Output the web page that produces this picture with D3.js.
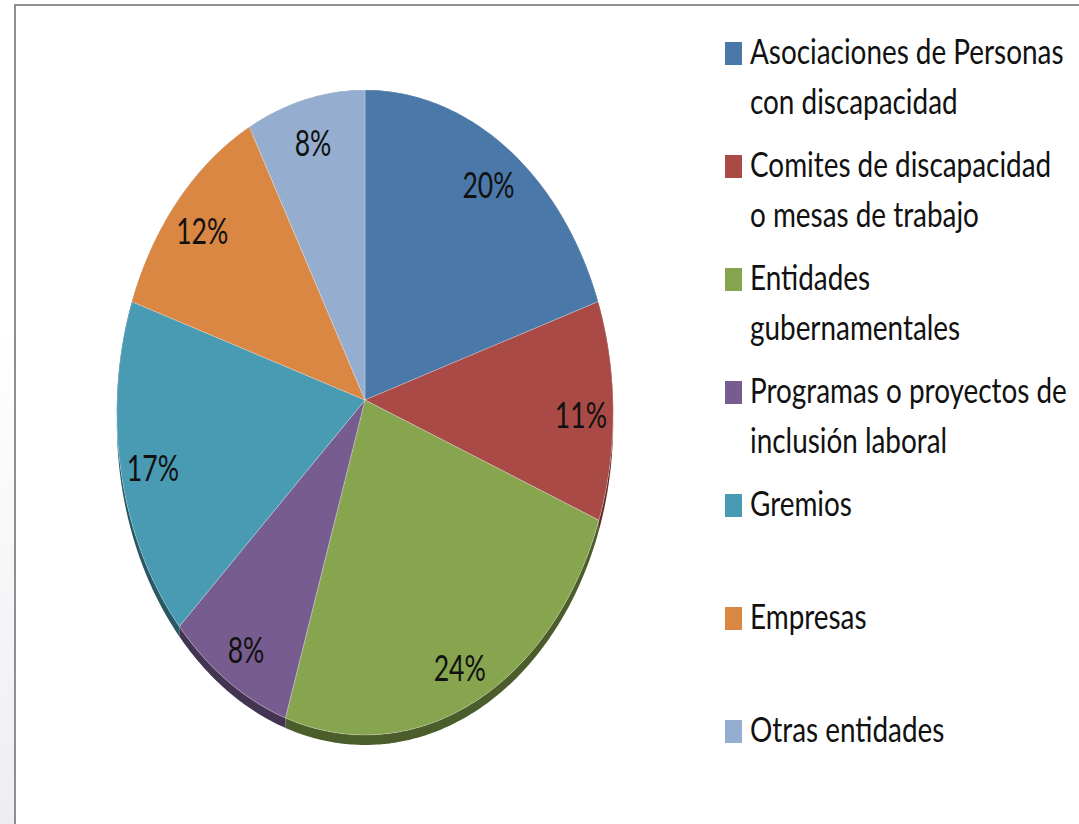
<!DOCTYPE html>
<html>
<head>
<meta charset="utf-8">
<script src="https://cdn.jsdelivr.net/npm/d3@7"></script>
<style>
  html, body { margin: 0; padding: 0; background: #fff; }
  svg { display: block; }
  .lbl, .leg { font-family: Lato, "Open Sans", sans-serif; fill: #111; }
</style>
</head>
<body>
<div id="chart"></div>
<script>
// Shares per type of entity.
const categories = [
    "Asociaciones de Personas con discapacidad",
    "Comites de discapacidad o mesas de trabajo",
    "Entidades gubernamentales",
    "Programas o proyectos de inclusión laboral",
    "Gremios",
    "Empresas",
    "Otras entidades"
];
const legendLines = [
    ["Asociaciones de Personas", "con discapacidad"],
    ["Comites de discapacidad", "o mesas de trabajo"],
    ["Entidades", "gubernamentales"],
    ["Programas o proyectos de", "inclusión laboral"],
    ["Gremios"],
    ["Empresas"],
    ["Otras entidades"]
];
const shares = [20, 11, 24, 8, 17, 12, 8];
const colors = ["#4a78a9", "#a94a47", "#87a44e", "#775d8f", "#489bb3", "#db8744", "#95aecf"];

const WIDTH = 1079, HEIGHT = 824;

// Tilted pie: ellipse with a touch of perspective, plus a thin side wall.
const PIE = { cx: 365, cy: 400, rx: 248, ry: 322, k: 0.0387, depth: 10 };
const LEGEND_TEXT_WIDTH = 317; // width of the longest legend line in the reference

const project = (angle, r) => {
    const u = r * Math.sin(angle);
    const v = -r * Math.cos(angle);
    const d = 1 - PIE.k * v;
    return [PIE.cx + PIE.rx * u / d, PIE.cy + PIE.ry * v / d];
};

const rimPoints = (a0, a1, r) => {
    const n = Math.max(2, Math.ceil((a1 - a0) / 0.01));
    return d3.range(n + 1).map(i => project(a0 + (a1 - a0) * i / n, r));
};

const svg = d3.select("#chart")
    .append("svg")
    .attr("width", WIDTH)
    .attr("height", HEIGHT);

// faint grey shading left of the frame
const grad = svg.append("defs").append("linearGradient")
    .attr("id", "edge").attr("x1", 0).attr("y1", 0).attr("x2", 0).attr("y2", 1);
grad.append("stop").attr("offset", "40%").attr("stop-color", "#fff");
grad.append("stop").attr("offset", "100%").attr("stop-color", "#eceef2");
svg.append("rect").attr("x", 0).attr("y", 0).attr("width", 14).attr("height", HEIGHT).attr("fill", "url(#edge)");

// chart frame (top and left edges visible)
svg.append("path")
    .attr("d", `M15,${HEIGHT} L15,5 L${WIDTH},5`)
    .attr("fill", "none")
    .attr("stroke", "#8f8f8f")
    .attr("stroke-width", 2);

const pie = d3.pie().sort(null).value(d => d);
const arcs = pie(shares);
const line = d3.line();

const pieG = svg.append("g");

// side wall first, the top faces cover the back part
pieG.selectAll("path.wall")
    .data(arcs)
    .join("path")
    .attr("class", "wall")
    .attr("d", d => {
        const top = rimPoints(d.startAngle, d.endAngle, 1);
        const bottom = top.map(([x, y]) => [x, y + PIE.depth]).reverse();
        return line(top.concat(bottom)) + "Z";
    })
    .attr("fill", (d, i) => d3.color(colors[i]).darker(1.6));

pieG.selectAll("path.slice")
    .data(arcs)
    .join("path")
    .attr("class", "slice")
    .attr("d", d => line([[PIE.cx, PIE.cy]].concat(rimPoints(d.startAngle, d.endAngle, 1))) + "Z")
    .attr("fill", (d, i) => colors[i])
    .attr("stroke", "rgba(255,255,255,0.25)")
    .attr("stroke-width", 1);

pieG.selectAll("text.lbl")
    .data(arcs)
    .join("text")
    .attr("class", "lbl")
    .attr("transform", d => {
        const [x, y] = project((d.startAngle + d.endAngle) / 2, 0.87);
        return `translate(${x},${y + 6}) scale(0.95,1.3)`;
    })
    .attr("text-anchor", "middle")
    .attr("dy", "0.36em")
    .style("font-size", "28px")
    .text(d => d.data + "%");

// legend
const legend = svg.append("g").attr("transform", "translate(725, 42)");
const item = legend.selectAll("g")
    .data(legendLines)
    .join("g")
    .attr("transform", (d, i) => `translate(0, ${i * 113})`);

item.append("rect")
    .attr("width", 17)
    .attr("height", 23)
    .attr("fill", (d, i) => colors[i]);

const legTexts = item.selectAll("text")
    .data(d => d)
    .join("text")
    .attr("class", "leg")
    .style("font-size", "28px")
    .text(d => d);

// squeeze horizontally like the narrow original font
const longest = legTexts.filter(d => d === "Programas o proyectos de").node().getComputedTextLength();
const sx = Math.min(1, LEGEND_TEXT_WIDTH / longest);
legTexts.attr("transform", (d, j) => `translate(25, ${22 + j * 50}) scale(${sx},1.25)`);
</script>
</body>
</html>
